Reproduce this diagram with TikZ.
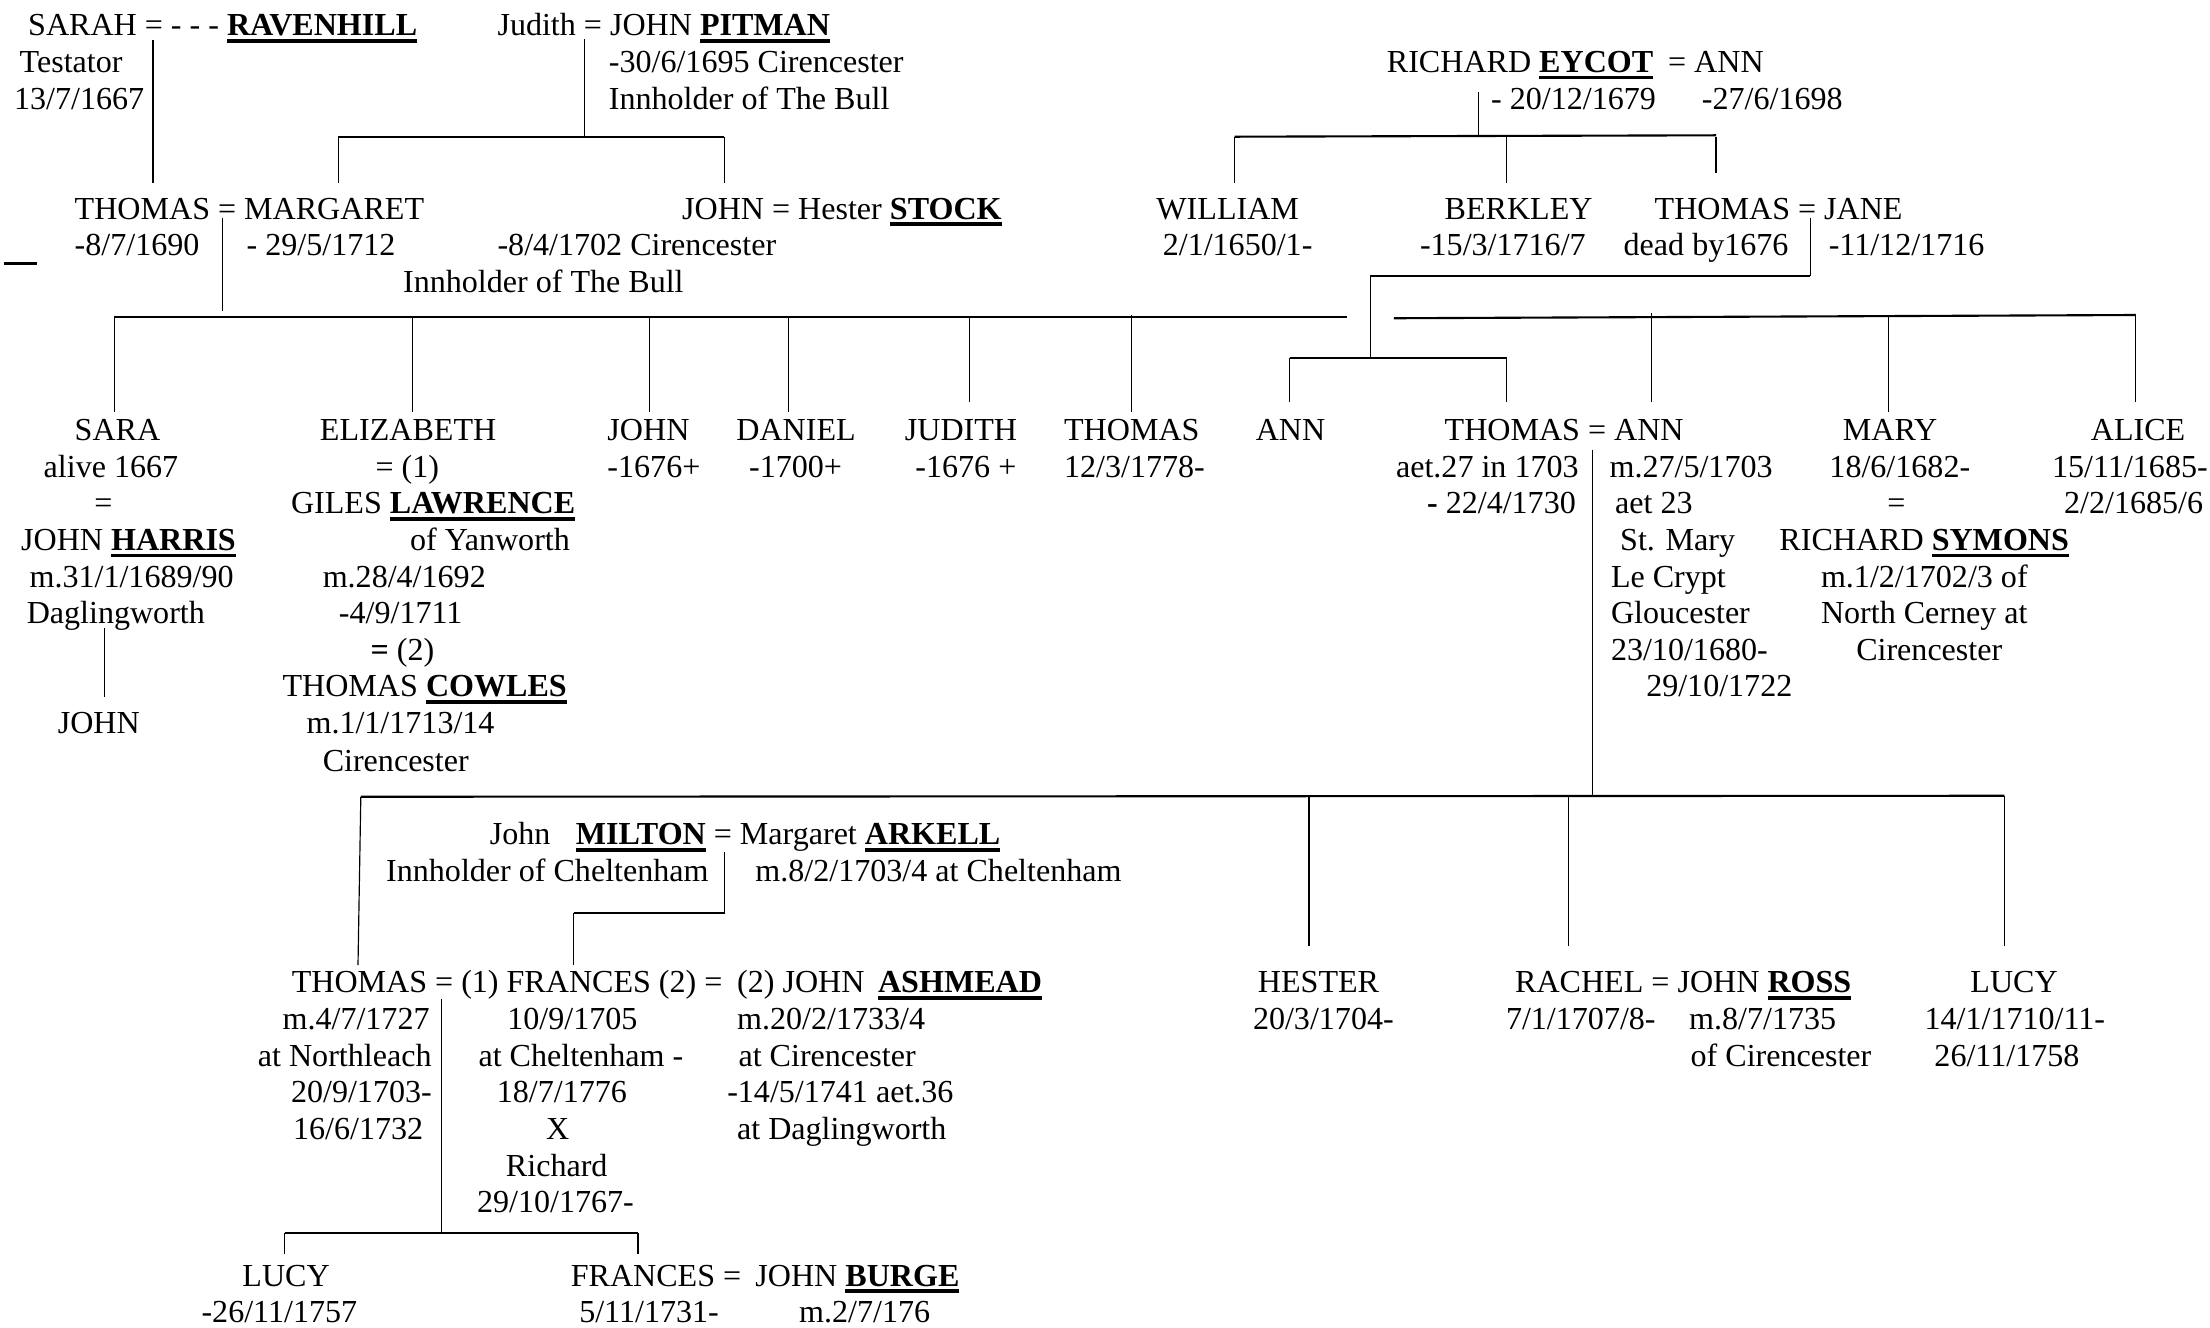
\documentclass[tikz,border=0pt]{standalone}
\usepackage{fontspec}
\setmainfont{Liberation Serif}
\newcommand\fsz{\fontsize{13.65pt}{15.6pt}\selectfont}
\newbox\surbox
\newcommand\sur[1]{\setbox\surbox=\hbox{\bfseries #1}\rlap{\rule[-2.9pt]{\wd\surbox}{1.5pt}}\box\surbox}
\tikzset{
  t/.style={anchor=base west, inner sep=0pt, outer sep=0pt, font=\fsz},
  vl/.style={line width=0.5pt},
  hl/.style={line width=0.9pt},
}
\begin{document}
\begin{tikzpicture}[x=0.6pt,y=-0.6pt]
\useasboundingbox (0,0) rectangle (1568,942);
% ---------- row 1
\node[t] (sarah) at (20,25.5) {SARAH = - - - \sur{RAVENHILL}};
\node[t] (sarahA) at (14,51.5) {Testator};
\node[t] (sarahB) at (10,77.5) {13/7/1667};
\node[t] (pitman) at (353,25.5) {Judith = JOHN \sur{PITMAN}};
\node[t] (pitmanA) at (432,51.5) {-30/6/1695 Cirencester};
\node[t] (pitmanB) at (432,77.5) {Innholder of The Bull};
\node[t] (eycot) at (984,51.5) {RICHARD \sur{EYCOT}};
\node[t] (eycotW) at (1183.5,51.5) {= ANN};
\node[t] (eycotA) at (1058,77.5) {- 20/12/1679};
\node[t] (eycotB) at (1207.5,77.5) {-27/6/1698};
% ---------- row 2
\node[t] (thm) at (53,155.5) {THOMAS = MARGARET};
\node[t] (thmA) at (53,181.5) {-8/7/1690};
\node[t] (thmB) at (175,181.5) {- 29/5/1712};
\node[t] (stock) at (484,155.5) {JOHN = Hester \sur{STOCK}};
\node[t] (stockA) at (353,181.5) {-8/4/1702 Cirencester};
\node[t] (stockB) at (286,207.5) {Innholder of The Bull};
\node[t] (will) at (820.5,155.5) {WILLIAM};
\node[t] (willA) at (825,181.5) {2/1/1650/1-};
\node[t] (berk) at (1025,155.5) {BERKLEY};
\node[t] (berkA) at (1007.5,181.5) {-15/3/1716/7};
\node[t] (thj) at (1174,155.5) {THOMAS = JANE};
\node[t] (thjA) at (1152,181.5) {dead by1676};
\node[t] (thjB) at (1297.5,181.5) {-11/12/1716};
% ---------- row 3
\node[t] (sara) at (53,312.5) {SARA};
\node[t] (saraA) at (31,338.5) {alive 1667};
\node[t] (saraB) at (67,364.5) {=};
\node[t] (saraC) at (15,390.5) {JOHN \sur{HARRIS}};
\node[t] (saraD) at (21,416.5) {m.31/1/1689/90};
\node[t] (saraE) at (19,442.5) {Daglingworth};
\node[t] (saraF) at (41,520.5) {JOHN};
\node[t] (eliz) at (227,312.5) {ELIZABETH};
\node[t] (elizA) at (266.5,338.5) {= (1)};
\node[t] (elizB) at (206.5,364.5) {GILES \sur{LAWRENCE}};
\node[t] (elizC) at (291,390.5) {of Yanworth};
\node[t] (elizD) at (229,416.5) {m.28/4/1692};
\node[t] (elizE) at (240.5,442.5) {-4/9/1711};
\node[t] (elizF) at (263,468.5) {\textbf{=} (2)};
\node[t] (elizG) at (200.5,494.5) {THOMAS \sur{COWLES}};
\node[t] (elizH) at (217.5,520.5) {m.1/1/1713/14};
\node[t] (elizI) at (229,547.5) {Cirencester};
\node[t] (john) at (431,312.5) {JOHN};
\node[t] (johnA) at (431,338.5) {-1676+};
\node[t] (dan) at (522.5,312.5) {DANIEL};
\node[t] (danA) at (531.5,338.5) {-1700+};
\node[t] (jud) at (642,312.5) {JUDITH};
\node[t] (judA) at (649.5,338.5) {-1676 +};
\node[t] (thom) at (755,312.5) {THOMAS};
\node[t] (thomA) at (755,338.5) {12/3/1778-};
\node[t] (ann) at (891,312.5) {ANN};
\node[t] (tha) at (1025,312.5) {THOMAS = ANN};
\node[t] (thaA) at (990.5,338.5) {aet.27 in 1703};
\node[t] (thaB) at (1012.5,364.5) {\textbf{-} 22/4/1730};
\node[t] (annA) at (1142,338.5) {m.27/5/1703};
\node[t] (annB) at (1146,364.5) {aet 23};
\node[t] (annC) at (1149.5,390.5) {St. Mary};
\node[t] (annD) at (1143,416.5) {Le Crypt};
\node[t] (annE) at (1143,442.5) {Gloucester};
\node[t] (annF) at (1143,468.5) {23/10/1680-};
\node[t] (annG) at (1168,494.5) {29/10/1722};
\node[t] (mary) at (1307.5,312.5) {MARY};
\node[t] (maryA) at (1298,338.5) {18/6/1682-};
\node[t] (maryB) at (1339,364.5) {=};
\node[t] (maryC) at (1262.5,390.5) {RICHARD \sur{SYMONS}};
\node[t] (maryD) at (1292,416.5) {m.1/2/1702/3 of};
\node[t] (maryE) at (1292,442.5) {North Cerney at};
\node[t] (maryF) at (1317,468.5) {Cirencester};
\node[t] (alice) at (1483.5,312.5) {ALICE};
\node[t] (aliceA) at (1456,338.5) {15/11/1685-};
\node[t] (aliceB) at (1464.5,364.5) {2/2/1685/6};
% ---------- row 4
\node[t] (milJ) at (347.5,599.5) {John};
\node[t] (mil) at (408.5,599.5) {\sur{MILTON} = Margaret \sur{ARKELL}};
\node[t] (milA) at (274,625.5) {Innholder of Cheltenham};
\node[t] (milB) at (536,625.5) {m.8/2/1703/4 at Cheltenham};
% ---------- row 5
\node[t] (thf) at (207,704.5) {THOMAS = (1) FRANCES (2) =};
\node[t] (ash) at (523,704.5) {(2) JOHN};
\node[t] (ashS) at (623,704.5) {\sur{ASHMEAD}};
\node[t] (thfA) at (200.5,730.5) {m.4/7/1727};
\node[t] (thfB) at (183,756.5) {at Northleach};
\node[t] (thfC) at (206.5,782.5) {20/9/1703-};
\node[t] (thfD) at (208,808.5) {16/6/1732};
\node[t] (frA) at (360,730.5) {10/9/1705};
\node[t] (frB) at (339.5,756.5) {at Cheltenham -};
\node[t] (frC) at (352.5,782.5) {18/7/1776};
\node[t] (frD) at (387.5,808.5) {X};
\node[t] (frE) at (359,834.5) {Richard};
\node[t] (frF) at (338.5,860.5) {29/10/1767-};
\node[t] (ashA) at (523,730.5) {m.20/2/1733/4};
\node[t] (ashB) at (524,756.5) {at Cirencester};
\node[t] (ashC) at (516,782.5) {-14/5/1741 aet.36};
\node[t] (ashD) at (523,808.5) {at Daglingworth};
\node[t] (hes) at (892.5,704.5) {HESTER};
\node[t] (hesA) at (889,730.5) {20/3/1704-};
\node[t] (rach) at (1075,704.5) {RACHEL = JOHN \sur{ROSS}};
\node[t] (rachA) at (1068.5,730.5) {7/1/1707/8-};
\node[t] (rachB) at (1198.5,730.5) {m.8/7/1735};
\node[t] (rachC) at (1199.5,756.5) {of Cirencester};
\node[t] (lucy) at (1398,704.5) {LUCY};
\node[t] (lucyA) at (1365.5,730.5) {14/1/1710/11-};
\node[t] (lucyB) at (1372.5,756.5) {26/11/1758};
% ---------- row 6
\node[t] (lucy2) at (172,912.5) {LUCY};
\node[t] (lucy2A) at (143,938.5) {-26/11/1757};
\node[t] (fr2) at (405,912.5) {FRANCES =};
\node[t] (burge) at (536,912.5) {JOHN \sur{BURGE}};
\node[t] (fr2A) at (411,938.5) {5/11/1731-};
\node[t] (burgeA) at (567,938.5) {m.2/7/176};
% ---------- connectors
\coordinate (rvT) at (108.5,28.4); \coordinate (rvB) at (108.5,129.6);
\draw[vl] (rvT) -- (rvB);
\coordinate (ptT) at (414.6,28); \coordinate (ptM) at (414.6,97);
\coordinate (ptL) at (240,97); \coordinate (ptR) at (514,97);
\draw[vl] (ptT) -- (ptM);
\draw[hl] (ptL) -- (ptR);
\draw[vl] (ptL) -- ++(0,32.6);
\draw[vl] (ptR) -- ++(0,32.6);
\draw[line width=1.2pt] (2.5,187) -- (26,187);
% Thomas = Margaret children
\coordinate (tmT) at (158,155); \coordinate (tmB) at (158,221);
\draw[vl] (tmT) -- (tmB);
\coordinate (bL) at (81,225); \coordinate (bR) at (956,225);
\draw[hl] (bL) -- (bR);
\foreach \x in {81,292.7,461,559.5} \draw[vl] (\x,225) -- (\x,292);
\draw[vl] (688,225) -- (688,285);
\draw[vl] (802.5,223.5) -- (802.5,292);
% Thomas = Jane children
\coordinate (tjT) at (1284.3,155); \coordinate (tjB) at (1284.3,195.8);
\coordinate (tjL) at (972.3,195.8); \coordinate (tjD) at (972.3,253.8);
\draw[vl] (tjT) -- (tjB);
\draw[hl] (tjL) -- (tjB);
\draw[vl] (tjL) -- (tjD);
\draw[hl] (915,253.8) -- (1069,253.8);
\draw[vl] (915,253.8) -- (915,285);
\draw[vl] (1069,253.8) -- (1069,285);
\draw[hl] (989,225.8) -- (1515.3,223.5);
\draw[vl] (1172,222) -- (1172,285);
\draw[vl] (1340,223.5) -- (1340,292);
\draw[vl] (1515.3,223.5) -- (1515.3,285);
% Eycot children
\coordinate (eyT) at (1048.7,65); \coordinate (eyM) at (1048.7,97);
\draw[vl] (eyT) -- (eyM);
\draw[hl] (876,97) -- (1217.5,96);
\draw[vl] (876,97) -- (876,129.6);
\draw[vl] (1068.7,97) -- (1068.7,130);
\draw[vl] (1217.5,97) -- (1217.5,122.5);
% Thomas = Ann children
\coordinate (taT) at (1129.8,319); \coordinate (taB) at (1129.8,564.6);
\draw[vl] (taT) -- (taB);
\draw[hl] (256,565.3) -- (1422,564.6);
\draw[vl] (256,565.3) -- (254,684.8);
\draw[vl] (928.7,565) -- (928.7,671);
\draw[vl] (1112.9,565) -- (1112.9,671);
\draw[vl] (1422,564.6) -- (1422,671);
% Milton
\coordinate (miT) at (514.1,604.8); \coordinate (miB) at (514.1,648);
\coordinate (miL) at (407,648); \coordinate (miD) at (407,684.4);
\draw[vl] (miT) -- (miB);
\draw[hl] (miL) -- (miB);
\draw[vl] (miL) -- (miD);
% Thomas = Frances children
\coordinate (tfT) at (313.3,708.5); \coordinate (tfB) at (313.3,875);
\draw[vl] (tfT) -- (tfB);
\draw[hl] (201.9,875) -- (452.7,875);
\draw[vl] (201.9,875) -- (201.9,889.5);
\draw[vl] (452.7,875) -- (452.7,889.5);
% Sara -> John
\draw[vl] (74.2,445.6) -- (74.2,494.3);
\end{tikzpicture}
\end{document}
